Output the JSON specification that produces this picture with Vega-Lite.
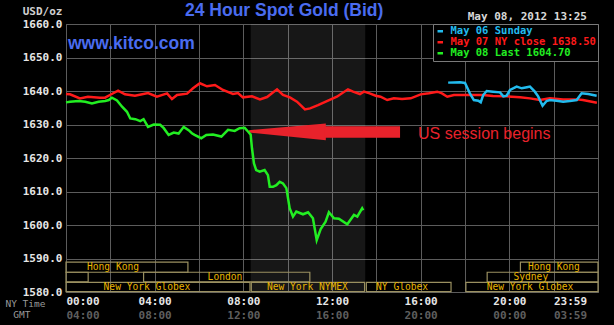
{
  "$schema": "https://vega.github.io/schema/vega-lite/v6.json",
  "width": 532,
  "height": 268,
  "autosize": {"type": "none"},
  "padding": {"left": 66, "top": 24, "right": 16, "bottom": 33},
  "background": "#000000",
  "title": {"text": "24 Hour Spot Gold (Bid)", "anchor": "start", "frame": "group", "dx": 119, "offset": -28, "baseline": "alphabetic", "font": "Liberation Sans", "fontSize": 17.5, "fontWeight": "bold", "color": "#4a6cf0"},
  "datasets": {
    "prices": [
      {"s": "May 07 NY close 1638.50", "h": 0, "p": 1639.1}, {"s": "May 07 NY close 1638.50", "h": 0.18, "p": 1639.0}, {"s": "May 07 NY close 1638.50", "h": 0.63, "p": 1637.8}, {"s": "May 07 NY close 1638.50", "h": 0.99, "p": 1638.3}, {"s": "May 07 NY close 1638.50", "h": 1.53, "p": 1638.0}, {"s": "May 07 NY close 1638.50", "h": 1.76, "p": 1638.0}, {"s": "May 07 NY close 1638.50", "h": 1.98, "p": 1638.8}, {"s": "May 07 NY close 1638.50", "h": 2.35, "p": 1640.1}, {"s": "May 07 NY close 1638.50", "h": 2.66, "p": 1639.0}, {"s": "May 07 NY close 1638.50", "h": 3.11, "p": 1638.6}, {"s": "May 07 NY close 1638.50", "h": 3.7, "p": 1639.4}, {"s": "May 07 NY close 1638.50", "h": 4.1, "p": 1638.3}, {"s": "May 07 NY close 1638.50", "h": 4.56, "p": 1639.3}, {"s": "May 07 NY close 1638.50", "h": 4.78, "p": 1637.6}, {"s": "May 07 NY close 1638.50", "h": 5.01, "p": 1638.8}, {"s": "May 07 NY close 1638.50", "h": 5.46, "p": 1639.2}, {"s": "May 07 NY close 1638.50", "h": 5.73, "p": 1640.8}, {"s": "May 07 NY close 1638.50", "h": 6.04, "p": 1642.3}, {"s": "May 07 NY close 1638.50", "h": 6.36, "p": 1641.4}, {"s": "May 07 NY close 1638.50", "h": 6.72, "p": 1641.8}, {"s": "May 07 NY close 1638.50", "h": 7.08, "p": 1640.3}, {"s": "May 07 NY close 1638.50", "h": 7.53, "p": 1639.1}, {"s": "May 07 NY close 1638.50", "h": 7.76, "p": 1639.4}, {"s": "May 07 NY close 1638.50", "h": 7.98, "p": 1638.1}, {"s": "May 07 NY close 1638.50", "h": 8.39, "p": 1638.4}, {"s": "May 07 NY close 1638.50", "h": 8.75, "p": 1637.5}, {"s": "May 07 NY close 1638.50", "h": 9.07, "p": 1638.2}, {"s": "May 07 NY close 1638.50", "h": 9.52, "p": 1640.5}, {"s": "May 07 NY close 1638.50", "h": 9.79, "p": 1638.8}, {"s": "May 07 NY close 1638.50", "h": 10.1, "p": 1638.1}, {"s": "May 07 NY close 1638.50", "h": 10.42, "p": 1636.8}, {"s": "May 07 NY close 1638.50", "h": 10.78, "p": 1634.5}, {"s": "May 07 NY close 1638.50", "h": 11.01, "p": 1634.8}, {"s": "May 07 NY close 1638.50", "h": 11.37, "p": 1635.8}, {"s": "May 07 NY close 1638.50", "h": 11.77, "p": 1637.0}, {"s": "May 07 NY close 1638.50", "h": 12.22, "p": 1638.3}, {"s": "May 07 NY close 1638.50", "h": 12.72, "p": 1640.5}, {"s": "May 07 NY close 1638.50", "h": 12.95, "p": 1639.8}, {"s": "May 07 NY close 1638.50", "h": 13.26, "p": 1639.1}, {"s": "May 07 NY close 1638.50", "h": 13.44, "p": 1639.8}, {"s": "May 07 NY close 1638.50", "h": 13.7, "p": 1639.3}, {"s": "May 07 NY close 1638.50", "h": 13.97, "p": 1638.6}, {"s": "May 07 NY close 1638.50", "h": 14.19, "p": 1638.3}, {"s": "May 07 NY close 1638.50", "h": 14.49, "p": 1637.3}, {"s": "May 07 NY close 1638.50", "h": 14.79, "p": 1637.8}, {"s": "May 07 NY close 1638.50", "h": 15.16, "p": 1637.6}, {"s": "May 07 NY close 1638.50", "h": 15.55, "p": 1637.8}, {"s": "May 07 NY close 1638.50", "h": 16.0, "p": 1639.0}, {"s": "May 07 NY close 1638.50", "h": 16.37, "p": 1639.3}, {"s": "May 07 NY close 1638.50", "h": 16.75, "p": 1639.8}, {"s": "May 07 NY close 1638.50", "h": 16.96, "p": 1639.3}, {"s": "May 07 NY close 1638.50", "h": 17.2, "p": 1638.3}, {"s": "May 07 NY close 1638.50", "h": 17.5, "p": 1638.8}, {"s": "May 07 NY close 1638.50", "h": 17.95, "p": 1638.8}, {"s": "May 07 NY close 1638.50", "h": 18.22, "p": 1638.8}, {"s": "May 07 NY close 1638.50", "h": 18.81, "p": 1638.8}, {"s": "May 07 NY close 1638.50", "h": 19.26, "p": 1638.5}, {"s": "May 07 NY close 1638.50", "h": 19.88, "p": 1638.4}, {"s": "May 07 NY close 1638.50", "h": 20.48, "p": 1638.1}, {"s": "May 07 NY close 1638.50", "h": 20.93, "p": 1637.8}, {"s": "May 07 NY close 1638.50", "h": 21.38, "p": 1637.3}, {"s": "May 07 NY close 1638.50", "h": 21.83, "p": 1637.8}, {"s": "May 07 NY close 1638.50", "h": 22.42, "p": 1637.5}, {"s": "May 07 NY close 1638.50", "h": 23.05, "p": 1637.5}, {"s": "May 07 NY close 1638.50", "h": 23.32, "p": 1637.3}, {"s": "May 07 NY close 1638.50", "h": 23.95, "p": 1636.5},
      {"s": "May 08 Last 1604.70", "h": 0, "p": 1636.6}, {"s": "May 08 Last 1604.70", "h": 0.18, "p": 1636.8}, {"s": "May 08 Last 1604.70", "h": 0.57, "p": 1637.0}, {"s": "May 08 Last 1604.70", "h": 0.87, "p": 1636.8}, {"s": "May 08 Last 1604.70", "h": 1.17, "p": 1636.3}, {"s": "May 08 Last 1604.70", "h": 1.47, "p": 1636.8}, {"s": "May 08 Last 1604.70", "h": 1.77, "p": 1637.0}, {"s": "May 08 Last 1604.70", "h": 1.93, "p": 1637.3}, {"s": "May 08 Last 1604.70", "h": 2.07, "p": 1638.0}, {"s": "May 08 Last 1604.70", "h": 2.3, "p": 1637.2}, {"s": "May 08 Last 1604.70", "h": 2.53, "p": 1635.3}, {"s": "May 08 Last 1604.70", "h": 2.75, "p": 1633.8}, {"s": "May 08 Last 1604.70", "h": 2.9, "p": 1631.8}, {"s": "May 08 Last 1604.70", "h": 3.13, "p": 1631.6}, {"s": "May 08 Last 1604.70", "h": 3.35, "p": 1631.0}, {"s": "May 08 Last 1604.70", "h": 3.5, "p": 1631.6}, {"s": "May 08 Last 1604.70", "h": 3.7, "p": 1629.3}, {"s": "May 08 Last 1604.70", "h": 3.96, "p": 1630.0}, {"s": "May 08 Last 1604.70", "h": 4.25, "p": 1629.9}, {"s": "May 08 Last 1604.70", "h": 4.41, "p": 1628.9}, {"s": "May 08 Last 1604.70", "h": 4.63, "p": 1626.9}, {"s": "May 08 Last 1604.70", "h": 4.86, "p": 1627.6}, {"s": "May 08 Last 1604.70", "h": 5.08, "p": 1627.3}, {"s": "May 08 Last 1604.70", "h": 5.31, "p": 1629.3}, {"s": "May 08 Last 1604.70", "h": 5.53, "p": 1628.3}, {"s": "May 08 Last 1604.70", "h": 5.68, "p": 1627.4}, {"s": "May 08 Last 1604.70", "h": 5.8, "p": 1626.9}, {"s": "May 08 Last 1604.70", "h": 6.1, "p": 1625.9}, {"s": "May 08 Last 1604.70", "h": 6.33, "p": 1626.9}, {"s": "May 08 Last 1604.70", "h": 6.63, "p": 1627.0}, {"s": "May 08 Last 1604.70", "h": 7.01, "p": 1626.4}, {"s": "May 08 Last 1604.70", "h": 7.31, "p": 1628.4}, {"s": "May 08 Last 1604.70", "h": 7.61, "p": 1628.1}, {"s": "May 08 Last 1604.70", "h": 7.83, "p": 1628.9}, {"s": "May 08 Last 1604.70", "h": 8.06, "p": 1629.0}, {"s": "May 08 Last 1604.70", "h": 8.21, "p": 1627.9}, {"s": "May 08 Last 1604.70", "h": 8.33, "p": 1627.0}, {"s": "May 08 Last 1604.70", "h": 8.39, "p": 1622.9}, {"s": "May 08 Last 1604.70", "h": 8.48, "p": 1618.4}, {"s": "May 08 Last 1604.70", "h": 8.58, "p": 1616.4}, {"s": "May 08 Last 1604.70", "h": 8.74, "p": 1615.9}, {"s": "May 08 Last 1604.70", "h": 8.96, "p": 1616.4}, {"s": "May 08 Last 1604.70", "h": 9.11, "p": 1614.9}, {"s": "May 08 Last 1604.70", "h": 9.19, "p": 1611.4}, {"s": "May 08 Last 1604.70", "h": 9.34, "p": 1611.4}, {"s": "May 08 Last 1604.70", "h": 9.49, "p": 1611.9}, {"s": "May 08 Last 1604.70", "h": 9.64, "p": 1612.9}, {"s": "May 08 Last 1604.70", "h": 9.79, "p": 1612.4}, {"s": "May 08 Last 1604.70", "h": 9.94, "p": 1611.0}, {"s": "May 08 Last 1604.70", "h": 10.09, "p": 1605.0}, {"s": "May 08 Last 1604.70", "h": 10.24, "p": 1602.5}, {"s": "May 08 Last 1604.70", "h": 10.39, "p": 1604.0}, {"s": "May 08 Last 1604.70", "h": 10.69, "p": 1603.2}, {"s": "May 08 Last 1604.70", "h": 10.92, "p": 1603.8}, {"s": "May 08 Last 1604.70", "h": 11.14, "p": 1602.0}, {"s": "May 08 Last 1604.70", "h": 11.31, "p": 1595.5}, {"s": "May 08 Last 1604.70", "h": 11.49, "p": 1598.8}, {"s": "May 08 Last 1604.70", "h": 11.71, "p": 1601.0}, {"s": "May 08 Last 1604.70", "h": 11.86, "p": 1603.8}, {"s": "May 08 Last 1604.70", "h": 12.09, "p": 1602.0}, {"s": "May 08 Last 1604.70", "h": 12.31, "p": 1601.9}, {"s": "May 08 Last 1604.70", "h": 12.69, "p": 1600.2}, {"s": "May 08 Last 1604.70", "h": 12.99, "p": 1603.0}, {"s": "May 08 Last 1604.70", "h": 13.14, "p": 1602.5}, {"s": "May 08 Last 1604.70", "h": 13.36, "p": 1605.0}, {"s": "May 08 Last 1604.70", "h": 13.41, "p": 1604.4},
      {"s": "May 06 Sunday", "h": 17.24, "p": 1642.5}, {"s": "May 06 Sunday", "h": 17.77, "p": 1642.6}, {"s": "May 06 Sunday", "h": 18.0, "p": 1642.4}, {"s": "May 06 Sunday", "h": 18.15, "p": 1640.3}, {"s": "May 06 Sunday", "h": 18.22, "p": 1639.3}, {"s": "May 06 Sunday", "h": 18.4, "p": 1637.3}, {"s": "May 06 Sunday", "h": 18.6, "p": 1637.1}, {"s": "May 06 Sunday", "h": 18.71, "p": 1636.6}, {"s": "May 06 Sunday", "h": 18.82, "p": 1638.8}, {"s": "May 06 Sunday", "h": 18.98, "p": 1640.0}, {"s": "May 06 Sunday", "h": 19.26, "p": 1639.8}, {"s": "May 06 Sunday", "h": 19.58, "p": 1639.6}, {"s": "May 06 Sunday", "h": 19.73, "p": 1638.4}, {"s": "May 06 Sunday", "h": 19.88, "p": 1638.6}, {"s": "May 06 Sunday", "h": 20.03, "p": 1640.3}, {"s": "May 06 Sunday", "h": 20.33, "p": 1641.3}, {"s": "May 06 Sunday", "h": 20.56, "p": 1640.8}, {"s": "May 06 Sunday", "h": 20.79, "p": 1641.1}, {"s": "May 06 Sunday", "h": 20.93, "p": 1641.3}, {"s": "May 06 Sunday", "h": 21.15, "p": 1639.8}, {"s": "May 06 Sunday", "h": 21.3, "p": 1638.4}, {"s": "May 06 Sunday", "h": 21.5, "p": 1635.6}, {"s": "May 06 Sunday", "h": 21.68, "p": 1637.0}, {"s": "May 06 Sunday", "h": 21.83, "p": 1637.3}, {"s": "May 06 Sunday", "h": 22.13, "p": 1637.1}, {"s": "May 06 Sunday", "h": 22.43, "p": 1636.8}, {"s": "May 06 Sunday", "h": 22.73, "p": 1637.0}, {"s": "May 06 Sunday", "h": 23.04, "p": 1637.3}, {"s": "May 06 Sunday", "h": 23.26, "p": 1639.3}, {"s": "May 06 Sunday", "h": 23.56, "p": 1639.1}, {"s": "May 06 Sunday", "h": 23.94, "p": 1638.6}
    ],
    "sessions": [
      {"name": "Hong Kong", "start": 0, "end": 5.5, "lo": 1585.9, "hi": 1588.9, "mid": 2.12},
      {"name": "Hong Kong", "start": 20.5, "end": 24, "lo": 1585.9, "hi": 1588.9, "mid": 22.01},
      {"name": "", "start": 0, "end": 1.0, "lo": 1583.0, "hi": 1585.9, "mid": 0.5},
      {"name": "London", "start": 3.5, "end": 11.0, "lo": 1583.0, "hi": 1585.9, "mid": 7.17},
      {"name": "Sydney", "start": 19.0, "end": 24, "lo": 1583.0, "hi": 1585.9, "mid": 20.97},
      {"name": "New York Globex", "start": 0, "end": 8.3, "lo": 1580.1, "hi": 1582.9, "mid": 3.65},
      {"name": "New York NYMEX", "start": 8.36, "end": 13.47, "lo": 1580.1, "hi": 1582.9, "mid": 10.89},
      {"name": "NY Globex", "start": 13.55, "end": 17.37, "lo": 1580.1, "hi": 1582.9, "mid": 15.16},
      {"name": "New York Globex", "start": 18.04, "end": 24, "lo": 1580.1, "hi": 1582.9, "mid": 20.93}
    ]
  },
  "layer": [
    {
      "data": {"values": [{"start": 8.333, "end": 13.5}]},
      "mark": {"type": "rect", "color": "#ffffff", "opacity": 0.09},
      "encoding": {
        "x": {"field": "start", "type": "quantitative", "scale": {"domain": [0, 24], "nice": false, "zero": false}, "axis": null},
        "x2": {"field": "end"}
      }
    },
    {
      "data": {"name": "sessions"},
      "mark": {"type": "rect", "fillOpacity": 0, "stroke": "#9a9060", "strokeWidth": 1.2},
      "encoding": {
        "x": {"field": "start", "type": "quantitative", "axis": {
          "orient": "bottom", "values": [0, 4, 8, 12, 16, 20, 23.983],
          "labelExpr": "datum.value > 23 ? '03:59' : (((datum.value + 4) % 24) < 10 ? '0' : '') + ((datum.value + 4) % 24) + ':00'",
          "labelPadding": 17, "labelBaseline": "top", "labelColor": "#5e5e5e", "labelOverlap": false,
          "labelOffset": {"condition": {"test": "datum.value > 23", "value": -11}, "value": 0},
          "grid": false,
          "title": "GMT", "titleX": -36, "titleY": 22, "titleAlign": "right", "titleBaseline": "middle", "titleAngle": 0,
          "titleFont": "DejaVu Sans Mono", "titleFontWeight": "normal", "titleFontSize": 9.5, "titleColor": "#9a9a9a"
        }},
        "x2": {"field": "end"},
        "y": {"field": "lo", "type": "quantitative", "axis": null},
        "y2": {"field": "hi"}
      }
    },
    {
      "data": {"name": "sessions"},
      "transform": [{"filter": "datum.name != ''"}, {"calculate": "(datum.lo + datum.hi) / 2", "as": "ym"}],
      "mark": {"type": "text", "font": "DejaVu Sans Mono", "fontSize": 9.6, "color": "#e8b400", "baseline": "middle", "align": "center"},
      "encoding": {
        "x": {"field": "mid", "type": "quantitative", "axis": null},
        "y": {"field": "ym", "type": "quantitative", "axis": null},
        "text": {"field": "name"}
      }
    },
    {
      "data": {"values": [{"h": 8.25, "top": 1628.3, "bot": 1627.6}, {"h": 11.72, "top": 1630.3, "bot": 1625.3}]},
      "mark": {"type": "area", "color": "#e8222b"},
      "encoding": {
        "x": {"field": "h", "type": "quantitative", "axis": null},
        "y": {"field": "top", "type": "quantitative", "axis": null},
        "y2": {"field": "bot"}
      }
    },
    {
      "data": {"values": [{"x0": 11.68, "x1": 15.07, "y0": 1626.06, "y1": 1629.5}]},
      "mark": {"type": "rect", "color": "#e8222b"},
      "encoding": {
        "x": {"field": "x0", "type": "quantitative", "axis": null},
        "x2": {"field": "x1"},
        "y": {"field": "y0", "type": "quantitative", "axis": null},
        "y2": {"field": "y1"}
      }
    },
    {
      "data": {"name": "prices"},
      "mark": {"type": "line", "strokeWidth": 2.5},
      "encoding": {
        "x": {"field": "h", "type": "quantitative", "axis": {
          "orient": "bottom", "values": [0, 2, 4, 6, 8, 10, 12, 14, 16, 18, 20, 22, 23.983], "grid": true,
          "labelExpr": "datum.value > 23 ? '23:59' : (datum.value % 4 == 0 ? (datum.value < 10 ? '0' : '') + datum.value + ':00' : '')",
          "labelPadding": 3, "labelBaseline": "top", "labelOverlap": false,
          "labelOffset": {"condition": {"test": "datum.value > 23", "value": -11}, "value": 0},
          "title": "NY Time", "titleX": -21, "titleY": 11, "titleAlign": "right", "titleBaseline": "middle", "titleAngle": 0,
          "titleFont": "DejaVu Sans Mono", "titleFontWeight": "normal", "titleFontSize": 9.5, "titleColor": "#9a9a9a"
        }},
        "y": {"field": "p", "type": "quantitative", "scale": {"domain": [1580, 1660], "nice": false, "zero": false}, "axis": {
          "orient": "left", "values": [1580, 1590, 1600, 1610, 1620, 1630, 1640, 1650, 1660], "grid": true, "format": ".1f",
          "labelPadding": 4,
          "title": "USD/oz", "titleX": -4, "titleY": -13, "titleAlign": "right", "titleBaseline": "middle", "titleAngle": 0,
          "titleFont": "DejaVu Sans Mono", "titleFontWeight": "bold", "titleFontSize": 11, "titleColor": "#d0d0d0"
        }},
        "color": {"field": "s", "type": "nominal",
          "scale": {"domain": ["May 06 Sunday", "May 07 NY close 1638.50", "May 08 Last 1604.70"], "range": ["#22bbee", "#ff1a1a", "#22ee22"]},
          "legend": {
            "title": null, "orient": "top-right", "offset": 0, "fillColor": "#000000", "strokeColor": "#7a7a7a", "padding": 2,
            "labelFont": "DejaVu Sans Mono", "labelFontWeight": "bold", "labelFontSize": 10.5, "rowPadding": 0,
            "symbolType": "stroke", "symbolSize": 30, "symbolStrokeWidth": 2.5, "labelOffset": 5,
            "labelColor": {"expr": "datum.value == 'May 06 Sunday' ? '#22bbee' : (datum.value == 'May 07 NY close 1638.50' ? '#ff1a1a' : '#22ee22')"}
          }
        }
      }
    },
    {
      "data": {"values": [{}]},
      "mark": {"type": "text", "text": "www.kitco.com", "font": "Liberation Sans", "fontSize": 17.5, "fontWeight": "bold", "color": "#4a6cf0", "align": "left", "baseline": "alphabetic"},
      "encoding": {
        "x": {"datum": 0.09, "type": "quantitative", "axis": null},
        "y": {"datum": 1652.5, "type": "quantitative", "axis": null}
      }
    },
    {
      "data": {"values": [{}]},
      "mark": {"type": "text", "text": "US session begins", "font": "Liberation Sans", "fontSize": 16, "color": "#e8222b", "align": "left", "baseline": "middle"},
      "encoding": {
        "x": {"datum": 15.88, "type": "quantitative", "axis": null},
        "y": {"datum": 1627.2, "type": "quantitative", "axis": null}
      }
    },
    {
      "data": {"values": [{}]},
      "mark": {"type": "text", "text": "May 08, 2012 13:25", "font": "DejaVu Sans Mono", "fontSize": 11, "fontWeight": "bold", "color": "#d8d8d8", "align": "right", "baseline": "alphabetic"},
      "encoding": {
        "x": {"datum": 23.5, "type": "quantitative", "axis": null},
        "y": {"datum": 1661.2, "type": "quantitative", "axis": null}
      }
    }
  ],
  "resolve": {"axis": {"x": "independent", "y": "independent"}},
  "config": {
    "view": {"stroke": "#5c5c5c", "strokeWidth": 1},
    "axis": {"domain": false, "ticks": false, "grid": false, "labelFont": "DejaVu Sans Mono", "labelFontWeight": "bold", "labelFontSize": 11, "labelColor": "#e6e6e6", "gridColor": "#5c5c5c", "gridWidth": 1, "gridOpacity": 1}
  }
}
